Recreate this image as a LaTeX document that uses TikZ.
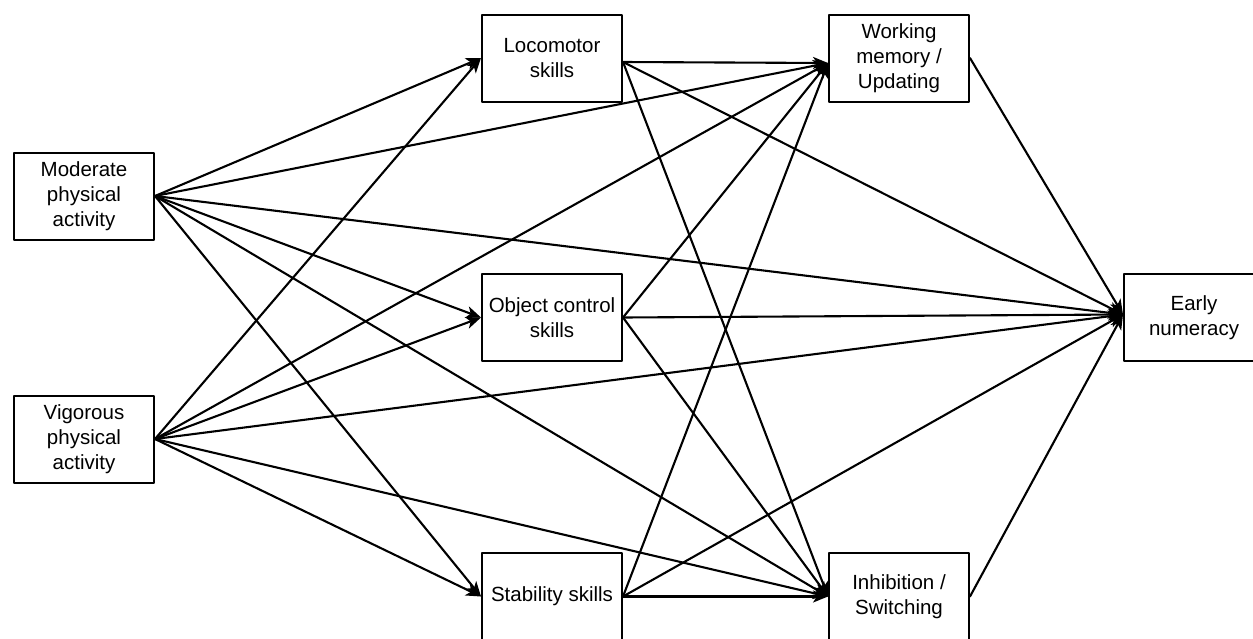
\documentclass[tikz,border=0pt]{standalone}
\usepackage{fontspec}
\setmainfont{Liberation Sans}
\usetikzlibrary{arrows.meta, calc}

\begin{document}
\begin{tikzpicture}[line cap=round,line join=round,x=1pt,y=-1pt,
    box/.style={draw,line width=2pt,minimum width=140pt,minimum height=87pt,inner sep=2pt,
        align=center,font=\fontsize{20.5}{25}\selectfont},
    arr/.style={line width=2.1pt,-{Stealth[length=15pt,width=12pt,inset=4pt]}}]
    \useasboundingbox (0,0) rectangle (1253,638);
    \clip (0,0) rectangle (1253,638);

    % sources
    \node[box] (mod) at (84,196) {Moderate\\physical\\activity};
    \node[box] (vig) at (84,439) {Vigorous\\physical\\activity};

    % motor skills
    \node[box] (loco) at (552,58) {Locomotor\\skills};
    \node[box] (obj) at (552,317.5) {Object control\\skills};
    \node[box] (stab) at (552,596.5) {Stability skills};

    % executive functions
    \node[box] (wm) at (899,58) {Working\\memory /\\Updating};
    \node[box] (inh) at (899,596.5) {Inhibition /\\Switching};

    % outcome
    \node[box] (num) at (1194,317.5) {Early\\numeracy};

    \foreach \t in {loco,obj,stab} {
        \draw[arr] (mod.east) -- (\t.west);
        \draw[arr] (vig.east) -- (\t.west);
    }
    \foreach \s in {mod,vig,obj,stab} {
        \draw[arr] (\s.east) -- ([yshift=-5pt]wm.west);
        \draw[arr] (\s.east) -- (inh.west);
        \draw[arr] (\s.east) -- ([yshift=3pt]num.west);
    }
    \draw[arr] ([yshift=-4pt]loco.east) -- ([yshift=-5pt]wm.west);
    \draw[arr] ([yshift=-4pt]loco.east) -- (inh.west);
    \draw[arr] ([yshift=-4pt]loco.east) -- ([yshift=3pt]num.west);
    \draw[arr] (wm.east) -- ([yshift=3pt]num.west);
    \draw[arr] (inh.east) -- ([yshift=3pt]num.west);

\end{tikzpicture}
\end{document}
